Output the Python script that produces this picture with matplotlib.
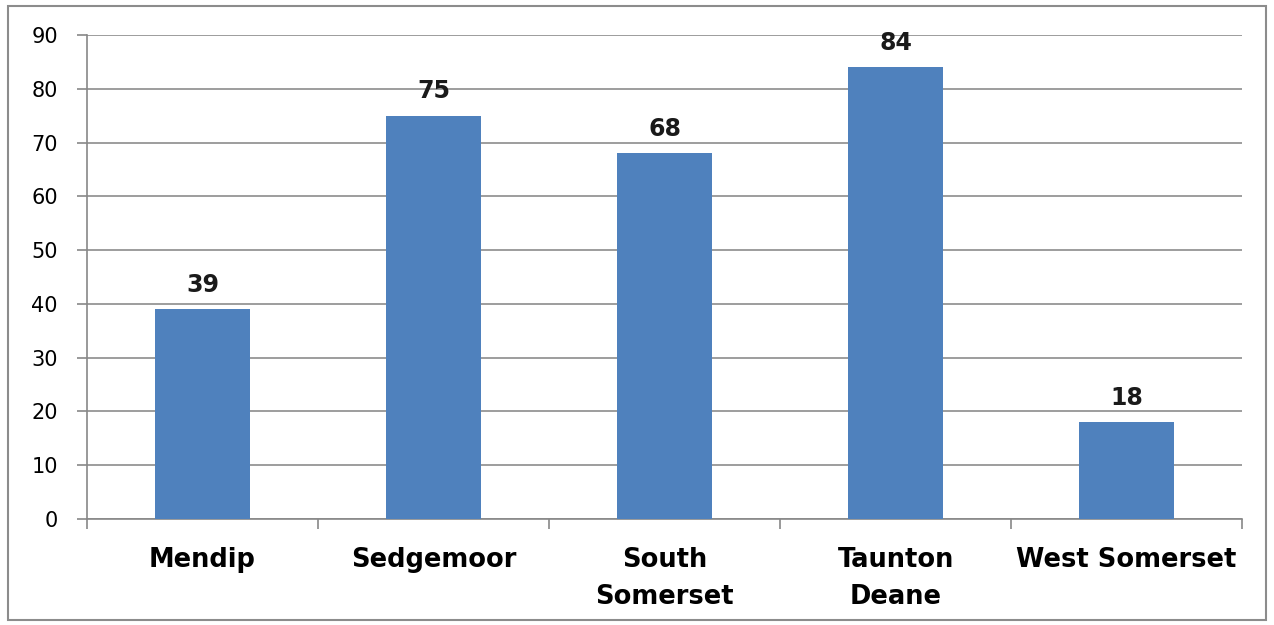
import matplotlib
matplotlib.use('Agg')
import matplotlib.pyplot as plt
from matplotlib.patches import Rectangle

districts = ['Mendip', 'Sedgemoor', 'South\nSomerset', 'Taunton\nDeane', 'West Somerset']
counts = [39, 75, 68, 84, 18]
yticks = [0, 10, 20, 30, 40, 50, 60, 70, 80, 90]

fig = plt.figure(figsize=(12.74, 6.25), dpi=100)
ax = fig.add_axes([0.0683, 0.1696, 0.9067, 0.7744])

# outer chart border
fig.patches.append(Rectangle((0.006, 0.008), 0.988, 0.982, transform=fig.transFigure,
                             fill=False, edgecolor='#8c8c8c', linewidth=1.5))

x = range(len(districts))
bars = ax.bar(x, counts, width=0.41, color='#4F81BD', zorder=3)
for b, v in zip(bars, counts):
    ax.annotate(str(v), (b.get_x() + b.get_width() / 2, v), xytext=(0, 9),
                textcoords='offset points', ha='center', va='bottom',
                fontsize=17, fontweight='bold', color='#1a1a1a')

ax.set_xlim(-0.5, len(districts) - 0.5)
ax.set_ylim(0, 90)
ax.set_yticks(yticks)
ax.tick_params(axis='y', labelsize=15, length=7, color='#888888', width=1.2, pad=14)
ax.yaxis.grid(True, color='#8c8c8c', linewidth=1.2, zorder=0)

# category ticks sit between the bars
ax.set_xticks([i - 0.5 for i in range(len(districts) + 1)], minor=False)
ax.set_xticklabels([])
ax.tick_params(axis='x', length=7, color='#888888', width=1.2)
ax.set_xticks(list(x), minor=True)
ax.set_xticklabels(districts, minor=True, fontsize=18.5, fontweight='bold')
ax.tick_params(axis='x', which='minor', length=0, pad=20)
for lbl in ax.get_xticklabels(minor=True):
    lbl.set_linespacing(1.55)
    lbl.set_va('top')

for s in ['top', 'right']:
    ax.spines[s].set_visible(False)
for s in ['left', 'bottom']:
    ax.spines[s].set_color('#888888')
    ax.spines[s].set_linewidth(1.2)

fig.savefig('out.png', dpi=100)
